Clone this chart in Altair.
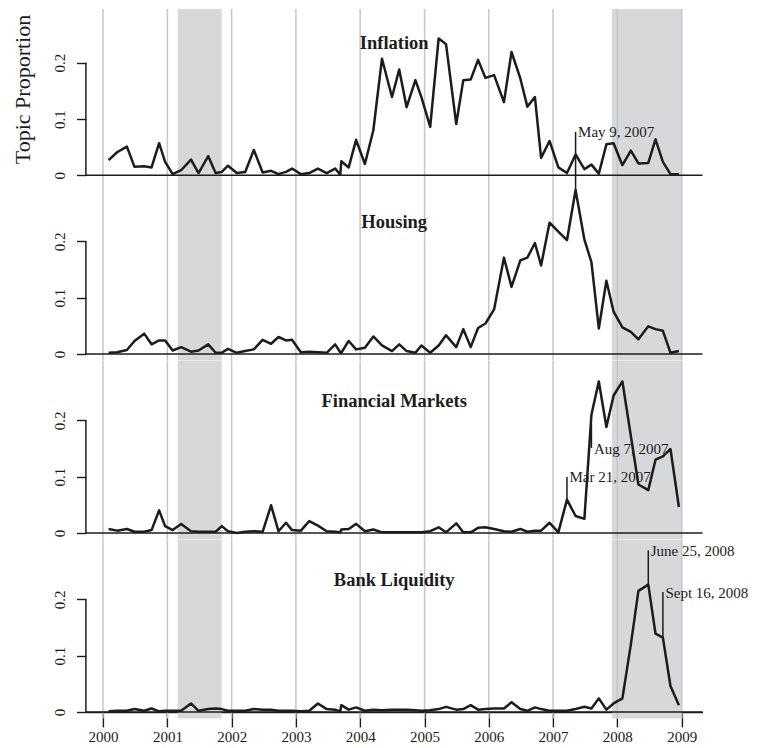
import altair as alt
import pandas as pd

# ---------------- data ----------------
dates = [
    "2000-02-02", "2000-03-21", "2000-05-16", "2000-06-28", "2000-08-22", "2000-10-03", "2000-11-15", "2000-12-19",
    "2001-01-31", "2001-03-20", "2001-05-15", "2001-06-27", "2001-08-21", "2001-10-02", "2001-11-06", "2001-12-11",
    "2002-01-30", "2002-03-19", "2002-05-07", "2002-06-26", "2002-08-13", "2002-09-24", "2002-11-06", "2002-12-10",
    "2003-01-29", "2003-03-18", "2003-05-06", "2003-06-25", "2003-08-12", "2003-09-10", "2003-09-16", "2003-10-28", "2003-12-09",
    "2004-01-28", "2004-03-16", "2004-05-04", "2004-06-30", "2004-08-10", "2004-09-21", "2004-11-10", "2004-12-14",
    "2005-02-02", "2005-03-22", "2005-05-03", "2005-06-30", "2005-08-09", "2005-09-20", "2005-11-01", "2005-12-13",
    "2006-01-31", "2006-03-28", "2006-05-10", "2006-06-29", "2006-08-08", "2006-09-20", "2006-10-25", "2006-12-12",
    "2007-01-31", "2007-03-21", "2007-05-09", "2007-06-28", "2007-08-07", "2007-09-18", "2007-10-31", "2007-12-11",
    "2008-01-30", "2008-03-18", "2008-04-30", "2008-06-25", "2008-08-05", "2008-09-16", "2008-10-29", "2008-12-16",
]

inflation = [
    0.027, 0.041, 0.051, 0.015, 0.016, 0.014, 0.057, 0.024,
    0.002, 0.009, 0.028, 0.004, 0.034, 0.004, 0.006, 0.017,
    0.004, 0.006, 0.045, 0.005, 0.008, 0.002, 0.006, 0.012,
    0.002, 0.004, 0.012, 0.004, 0.012, 0.001, 0.025, 0.014, 0.063,
    0.020, 0.080, 0.207, 0.139, 0.188, 0.121, 0.169, 0.139,
    0.086, 0.243, 0.233, 0.091, 0.169, 0.170, 0.205, 0.173,
    0.178, 0.130, 0.219, 0.172, 0.122, 0.139, 0.031, 0.061,
    0.014, 0.004, 0.037, 0.011, 0.019, 0.003, 0.055, 0.057,
    0.018, 0.044, 0.021, 0.022, 0.064, 0.024, 0.002, 0.002,
]

housing = [
    0.002, 0.003, 0.007, 0.023, 0.036, 0.017, 0.024, 0.024,
    0.006, 0.012, 0.004, 0.006, 0.017, 0.002, 0.002, 0.009,
    0.002, 0.005, 0.008, 0.025, 0.018, 0.030, 0.024, 0.025,
    0.003, 0.004, 0.003, 0.002, 0.017, 0.003, 0.002, 0.023, 0.008,
    0.011, 0.031, 0.015, 0.005, 0.017, 0.005, 0.002, 0.015,
    0.002, 0.015, 0.033, 0.012, 0.044, 0.012, 0.046, 0.054,
    0.079, 0.171, 0.119, 0.166, 0.171, 0.197, 0.157, 0.233,
    0.217, 0.202, 0.291, 0.203, 0.163, 0.045, 0.130, 0.075,
    0.047, 0.039, 0.026, 0.049, 0.044, 0.041, 0.002, 0.005,
]

financial = [
    0.007, 0.004, 0.007, 0.002, 0.002, 0.005, 0.040, 0.012,
    0.005, 0.016, 0.003, 0.002, 0.002, 0.002, 0.012, 0.003,
    0.000, 0.002, 0.003, 0.002, 0.049, 0.003, 0.018, 0.005,
    0.004, 0.021, 0.013, 0.003, 0.002, 0.001, 0.006, 0.007, 0.016,
    0.003, 0.006, 0.001, 0.001, 0.001, 0.001, 0.001, 0.001,
    0.003, 0.010, 0.001, 0.017, 0.001, 0.001, 0.009, 0.010,
    0.007, 0.003, 0.002, 0.007, 0.002, 0.004, 0.004, 0.018,
    0.001, 0.059, 0.030, 0.025, 0.210, 0.269, 0.188, 0.244,
    0.269, 0.172, 0.086, 0.076, 0.130, 0.136, 0.149, 0.046,
]

bank = [
    0.001, 0.002, 0.002, 0.005, 0.002, 0.006, 0.001, 0.002,
    0.002, 0.002, 0.015, 0.002, 0.005, 0.006, 0.005, 0.002,
    0.002, 0.002, 0.005, 0.004, 0.004, 0.002, 0.002, 0.002,
    0.001, 0.002, 0.015, 0.005, 0.004, 0.001, 0.012, 0.004, 0.008,
    0.002, 0.004, 0.003, 0.004, 0.004, 0.004, 0.003, 0.002,
    0.003, 0.005, 0.009, 0.004, 0.005, 0.012, 0.004, 0.005,
    0.006, 0.006, 0.017, 0.005, 0.002, 0.008, 0.005, 0.002,
    0.002, 0.002, 0.005, 0.009, 0.006, 0.024, 0.004, 0.015,
    0.024, 0.120, 0.215, 0.226, 0.139, 0.132, 0.046, 0.012,
]

topics = ["Inflation", "Housing", "Financial Markets", "Bank Liquidity"]
series = [inflation, housing, financial, bank]

years = [2000, 2001, 2002, 2003, 2004, 2005, 2006, 2007, 2008, 2009]
year_dates = ["2000-01-01", "2001-01-01", "2002-01-01", "2003-01-01", "2004-01-01",
              "2005-01-01", "2006-01-01", "2007-01-01", "2008-01-01", "2009-01-01"]

recession_start = ["2001-03-01", "2007-12-01"]
recession_end = ["2001-11-05", "2008-12-28"]

ann_panel = [0, 2, 2, 3, 3]
ann_date = ["2007-05-09", "2007-03-21", "2007-08-07", "2008-06-25", "2008-09-16"]
ann_low = [-0.0266, 0.058, 0.151, 0.226, 0.133]
ann_high = [0.077, 0.0995, 0.193, 0.287, 0.213]
ann_text_y = [0.077, 0.0995, 0.149, 0.286, 0.212]
ann_label = ["May 9, 2007", "Mar 21, 2007", "Aug 7, 2007", "June 25, 2008", "Sept 16, 2008"]

title_y = 0.235
y_ticks = [0, 0.1, 0.2]

# ---------------- styling ----------------
FONT = "Liberation Serif"
INK = "#1c1c1c"
W = 616.6
Y_MIN = -0.0119
PX_PER_UNIT = 563.0
H_FIRST = 173.0
H_OTHER = 178.6


def dt(y, m, d):
    return alt.DateTime(year=y, month=m, date=d, utc=True)


x_scale = alt.Scale(type="utc", domain=[dt(1999, 9, 26), dt(2009, 4, 29)])


def panel(i, height, show_x=False, ytitle=None):
    ytop = Y_MIN + height / PX_PER_UNIT
    ys = alt.Scale(domain=[Y_MIN, ytop], nice=False, zero=False)

    yaxis_kw = dict(
        values=y_ticks, format="~g", labelAngle=270, labelAlign="center",
        labelBaseline="alphabetic", labelPadding=12.3, labelFont=FONT,
        labelFontSize=15, labelColor=INK, tickSize=9.4, tickWidth=1.4,
        tickColor=INK, domain=False, grid=False, orient="left",
    )
    if ytitle:
        yaxis_kw.update(
            title=ytitle, titleFont=FONT, titleFontSize=22, titleFontWeight="normal",
            titleColor=INK, titleAngle=270, titleAlign="center",
            titleBaseline="alphabetic", titleX=-56.7, titleY=80,
        )
    else:
        yaxis_kw.update(title=None)
    yaxis = alt.Axis(**yaxis_kw)

    if show_x:
        xaxis = alt.Axis(
            values=[dt(y, 1, 1) for y in years], format="%Y", formatType="utc",
            offset=-6.7, tickSize=15, tickWidth=1.4, tickColor=INK,
            domain=True, domainColor=INK, domainWidth=1.5,
            labelFont=FONT, labelFontSize=15, labelColor=INK,
            labelBaseline="alphabetic", labelPadding=14.3, orient="bottom",
            labelFlush=False, labelOverlap=False, grid=False, title=None,
        )
    else:
        xaxis = None

    rec = pd.DataFrame({"s": recession_start, "e": recession_end})
    shade = alt.Chart(rec).mark_rect(color="#d7d8da").encode(
        x=alt.X("s:T", scale=x_scale, axis=xaxis), x2="e:T"
    )

    grid = alt.Chart(pd.DataFrame({"yr": year_dates})).mark_rule(
        color="#c6c6c6", strokeWidth=1.5
    ).encode(x=alt.X("yr:T", scale=x_scale, axis=xaxis))

    base = alt.Chart(pd.DataFrame({"z": [0]})).mark_rule(
        color=INK, strokeWidth=1.5
    ).encode(y=alt.Y("z:Q", scale=ys, axis=yaxis))

    yline = alt.Chart(pd.DataFrame({"a": [y_ticks[0]], "b": [y_ticks[-1]]})).mark_rule(
        color=INK, strokeWidth=1.5
    ).encode(x=alt.value(0), y=alt.Y("a:Q", scale=ys, axis=yaxis), y2="b:Q")

    df = pd.DataFrame({"date": dates, "value": series[i]})
    line = alt.Chart(df).mark_line(
        color=INK, strokeWidth=2.5, strokeJoin="round"
    ).encode(
        x=alt.X("date:T", scale=x_scale, axis=xaxis),
        y=alt.Y("value:Q", scale=ys, axis=yaxis),
    )

    layers = [shade, grid, base, yline, line]

    idx = [k for k in range(len(ann_panel)) if ann_panel[k] == i]
    if idx:
        adf = pd.DataFrame({
            "d": [ann_date[k] for k in idx],
            "lo": [ann_low[k] for k in idx],
            "hi": [ann_high[k] for k in idx],
            "ty": [ann_text_y[k] for k in idx],
            "lab": [ann_label[k] for k in idx],
        })
        rules = alt.Chart(adf).mark_rule(color=INK, strokeWidth=1.5).encode(
            x=alt.X("d:T", scale=x_scale, axis=xaxis),
            y=alt.Y("lo:Q", scale=ys, axis=yaxis), y2="hi:Q",
        )
        texts = alt.Chart(adf).mark_text(
            font=FONT, fontSize=15, color=INK, align="left", baseline="middle", dx=2.5
        ).encode(
            x=alt.X("d:T", scale=x_scale, axis=xaxis),
            y=alt.Y("ty:Q", scale=ys, axis=yaxis), text="lab:N",
        )
        layers += [rules, texts]

    ttl = alt.Chart(pd.DataFrame({"t": [topics[i]], "ty": [title_y]})).mark_text(
        font=FONT, fontSize=18.5, fontWeight="bold", color=INK,
        align="center", baseline="middle",
    ).encode(x=alt.value(W / 2), y=alt.Y("ty:Q", scale=ys, axis=yaxis), text="t:N")
    layers.append(ttl)

    return alt.layer(*layers).properties(width=W, height=height)


p1 = panel(0, H_FIRST, ytitle="Topic Proportion")
p2 = panel(1, H_OTHER)
p3 = panel(2, H_OTHER)
p4 = panel(3, H_OTHER, show_x=True)

chart = alt.vconcat(p1, p2, p3, p4, spacing=0, bounds="flush").properties(
    padding={"left": 2.9, "top": 0, "right": 0, "bottom": 0}
).configure_view(stroke=None)

chart.save("out.html", embed_options={"renderer": "svg", "actions": False})
